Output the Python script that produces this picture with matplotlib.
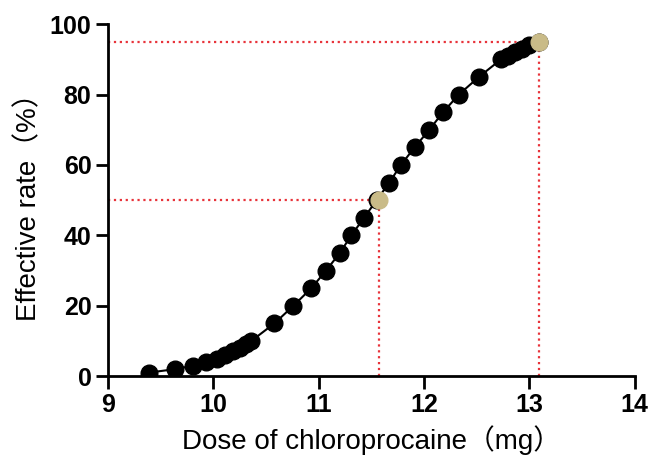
import matplotlib.pyplot as plt

# dose (mg) vs effective rate (%)
dose = [9.39, 9.64, 9.81, 9.93, 10.03, 10.11, 10.19, 10.25, 10.31, 10.36,
        10.58, 10.76, 10.93, 11.07, 11.20, 11.31, 11.43, 11.55, 11.67, 11.78,
        11.91, 12.05, 12.18, 12.33, 12.52, 12.73, 12.80, 12.86, 12.93, 13.00,
        13.09]
rate = [1, 2, 3, 4, 5, 6, 7, 8, 9, 10,
        15, 20, 25, 30, 35, 40, 45, 50, 55, 60,
        65, 70, 75, 80, 85, 90, 91, 92, 93, 94,
        95]

ed50 = (11.57, 50)
ed95 = (13.09, 95)

fam = ['Liberation Sans', 'Noto Sans CJK SC', 'DejaVu Sans']
plt.rcParams['font.family'] = ['Liberation Sans', 'DejaVu Sans']

fig = plt.figure(figsize=(6.51, 4.57), dpi=100)
ax = fig.add_axes([0.166, 0.177, 0.809, 0.770])

ax.plot(dose, rate, color='black', lw=1.5, marker='o', markersize=12,
        zorder=3)

for x, y in [ed50, ed95]:
    ax.plot([9, x], [y, y], color='#e8333a', ls=':', lw=1.6, zorder=2)
    ax.plot([x, x], [0, y], color='#e8333a', ls=':', lw=1.6, zorder=2)
    ax.plot(x, y, marker='o', markersize=12, color='#c9bb88', zorder=4,
            linestyle='none')

ax.set_xlim(9, 14)
ax.set_ylim(0, 100)
ax.set_xticks([9, 10, 11, 12, 13, 14])
ax.set_yticks([0, 20, 40, 60, 80, 100])
for s in ['top', 'right']:
    ax.spines[s].set_visible(False)
for s in ['left', 'bottom']:
    ax.spines[s].set_linewidth(2)
ax.tick_params(width=2, length=9, labelsize=18, pad=3)
for lab in ax.get_xticklabels() + ax.get_yticklabels():
    lab.set_fontweight('bold')

ax.set_xlabel('Dose of chloroprocaine（mg）', fontsize=20, family=fam,
              labelpad=6)
ax.set_ylabel('Effective rate（%）', fontsize=20, family=fam, labelpad=5)

fig.savefig('out.png', dpi=100)
